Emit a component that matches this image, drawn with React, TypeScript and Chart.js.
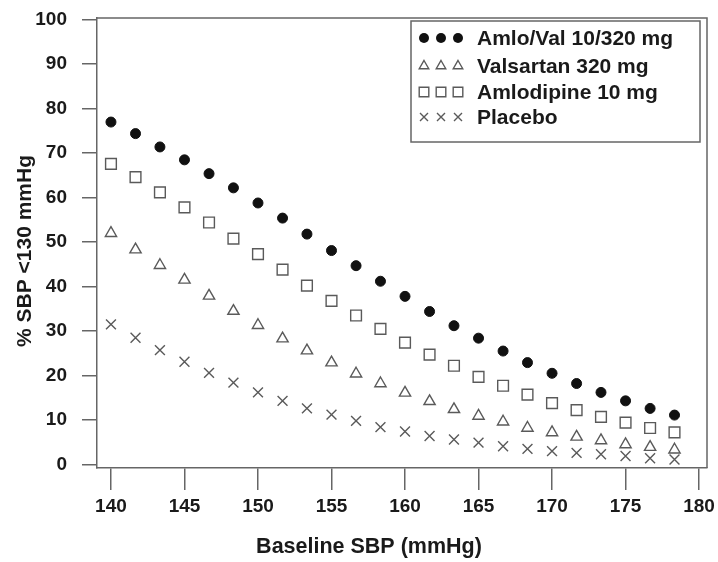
import React, { useEffect, useRef } from 'react';
import { Chart, registerables } from 'chart.js';

Chart.register(...registerables);

// ---- data ----
const xValues = [
  140, 141.67, 143.33, 145, 146.67, 148.33, 150, 151.67, 153.33, 155, 156.67, 158.33,
  160, 161.67, 163.33, 165, 166.67, 168.33, 170, 171.67, 173.33, 175, 176.67, 178.33,
];
const amloVal = [
  77.0, 74.4, 71.4, 68.5, 65.4, 62.2, 58.8, 55.4, 51.8, 48.1, 44.7, 41.2,
  37.8, 34.4, 31.2, 28.4, 25.5, 22.9, 20.5, 18.2, 16.2, 14.3, 12.6, 11.1,
];
const valsartan = [
  52.0, 48.3, 44.8, 41.5, 37.9, 34.5, 31.3, 28.3, 25.6, 22.9, 20.4, 18.2,
  16.1, 14.2, 12.4, 10.9, 9.6, 8.2, 7.2, 6.2, 5.4, 4.5, 3.9, 3.3,
];
const amlodipine = [
  67.6, 64.6, 61.2, 57.8, 54.4, 50.8, 47.3, 43.8, 40.2, 36.8, 33.5, 30.5,
  27.4, 24.7, 22.2, 19.7, 17.7, 15.7, 13.8, 12.2, 10.7, 9.4, 8.2, 7.2,
];
const placebo = [
  31.5, 28.5, 25.7, 23.1, 20.6, 18.4, 16.2, 14.3, 12.6, 11.2, 9.8, 8.4,
  7.4, 6.4, 5.6, 4.9, 4.1, 3.5, 3.0, 2.6, 2.3, 1.9, 1.4, 1.1,
];
const seriesLabels = ['Amlo/Val 10/320 mg', 'Valsartan 320 mg', 'Amlodipine 10 mg', 'Placebo'];
const xTicks = [140, 145, 150, 155, 160, 165, 170, 175, 180];
const yTicks = [0, 10, 20, 30, 40, 50, 60, 70, 80, 90, 100];
const xTitle = 'Baseline SBP (mmHg)';
const yTitle = '% SBP <130 mmHg';

// ---- styles ----
const FONT_FAMILY = '"Liberation Sans", Arial, Helvetica, sans-serif';
const TEXT = '#1a1a1a';
const AXIS = '#666666';
const GREY = '#5a5a5a';
const BLACK = '#111111';

type Style = 'circle' | 'triangle' | 'rect' | 'crossRot';
const legendStyles: Style[] = ['circle', 'triangle', 'rect', 'crossRot'];

function drawMarker(ctx: CanvasRenderingContext2D, style: Style, x: number, y: number, r: number) {
  ctx.beginPath();
  if (style === 'circle') {
    ctx.fillStyle = BLACK;
    ctx.arc(x, y, r, 0, Math.PI * 2);
    ctx.fill();
    return;
  }
  ctx.strokeStyle = GREY;
  ctx.lineWidth = 1.4;
  if (style === 'triangle') {
    for (let k = 0; k < 3; k++) {
      const a = (k * 2 * Math.PI) / 3;
      const px = x + Math.sin(a) * r;
      const py = y - Math.cos(a) * r;
      if (k === 0) ctx.moveTo(px, py);
      else ctx.lineTo(px, py);
    }
    ctx.closePath();
  } else if (style === 'rect') {
    ctx.rect(x - r, y - r, 2 * r, 2 * r);
  } else {
    ctx.moveTo(x - r, y - r);
    ctx.lineTo(x + r, y + r);
    ctx.moveTo(x + r, y - r);
    ctx.lineTo(x - r, y + r);
  }
  ctx.stroke();
}

const decorPlugin = {
  id: 'decor',
  afterDraw(chart: any) {
    const { ctx, chartArea: a } = chart;
    ctx.save();
    // frame top + right
    ctx.strokeStyle = AXIS;
    ctx.lineWidth = 1.5;
    ctx.beginPath();
    ctx.moveTo(a.left, a.top);
    ctx.lineTo(a.right, a.top);
    ctx.lineTo(a.right, a.bottom);
    ctx.stroke();

    // axis titles
    ctx.fillStyle = TEXT;
    ctx.font = `bold 21.5px ${FONT_FAMILY}`;
    ctx.textAlign = 'center';
    ctx.textBaseline = 'alphabetic';
    ctx.fillText(xTitle, 369, 553);
    ctx.font = `bold 21px ${FONT_FAMILY}`;
    ctx.save();
    ctx.translate(31, 251);
    ctx.rotate(-Math.PI / 2);
    ctx.fillText(yTitle, 0, 0);
    ctx.restore();

    // legend box
    const bx = 411, by = 21, bw = 289, bh = 121;
    ctx.fillStyle = '#ffffff';
    ctx.fillRect(bx, by, bw, bh);
    ctx.strokeStyle = AXIS;
    ctx.lineWidth = 1.5;
    ctx.strokeRect(bx, by, bw, bh);

    const rows = [38, 66, 92, 117];
    const mx = [424, 441, 458];
    const sizes = [5, 5.5, 4.8, 4];
    ctx.font = `bold 21px ${FONT_FAMILY}`;
    ctx.textAlign = 'left';
    ctx.textBaseline = 'middle';
    seriesLabels.forEach((lab, i) => {
      mx.forEach((x) => drawMarker(ctx, legendStyles[i], x, rows[i], sizes[i]));
      ctx.fillStyle = TEXT;
      ctx.fillText(lab, 477, rows[i] + 1);
    });
    ctx.restore();
  },
};

export default function App() {
  const ref = useRef<HTMLCanvasElement | null>(null);

  useEffect(() => {
    if (!ref.current) return;
    const toPts = (ys: number[]) => xValues.map((x, i) => ({ x, y: ys[i] }));
    const tickFont = { family: FONT_FAMILY, size: 19, weight: 'bold' as const };
    const chart = new Chart(ref.current, {
      type: 'scatter',
      data: {
        datasets: [
          {
            label: seriesLabels[0],
            data: toPts(amloVal),
            pointStyle: 'circle',
            pointRadius: 5,
            backgroundColor: BLACK,
            borderColor: BLACK,
            borderWidth: 1,
          },
          {
            label: seriesLabels[1],
            data: toPts(valsartan),
            pointStyle: 'triangle',
            pointRadius: 6.5,
            backgroundColor: 'rgba(0,0,0,0)',
            borderColor: GREY,
            borderWidth: 1.4,
          },
          {
            label: seriesLabels[2],
            data: toPts(amlodipine),
            pointStyle: 'rect',
            pointRadius: 7.6,
            backgroundColor: 'rgba(0,0,0,0)',
            borderColor: GREY,
            borderWidth: 1.4,
          },
          {
            label: seriesLabels[3],
            data: toPts(placebo),
            pointStyle: 'crossRot',
            pointRadius: 7,
            backgroundColor: 'rgba(0,0,0,0)',
            borderColor: GREY,
            borderWidth: 1.4,
          },
        ] as any,
      },
      options: {
        animation: false,
        responsive: false,
        devicePixelRatio: 1,
        layout: { padding: { left: 0, top: 18, right: 11, bottom: 0 } },
        plugins: {
          legend: { display: false },
          tooltip: { enabled: false },
          title: { display: false },
        },
        scales: {
          x: {
            type: 'linear',
            min: 139.05,
            max: 180.54,
            afterBuildTicks: (s: any) => {
              s.ticks = xTicks.map((v) => ({ value: v }));
            },
            afterFit: (s: any) => {
              s.height = 94;
              s.paddingLeft = 0;
              s.paddingRight = 0;
            },
            grid: {
              display: true,
              drawOnChartArea: false,
              drawTicks: true,
              tickLength: 22,
              color: AXIS,
              lineWidth: 1.5,
            },
            border: { display: true, color: AXIS, width: 1.5 },
            ticks: {
              font: tickFont,
              color: TEXT,
              padding: 5,
              maxRotation: 0,
              autoSkip: false,
              callback: (v: any) => String(v),
            },
          },
          y: {
            type: 'linear',
            min: -0.8,
            max: 100.4,
            afterBuildTicks: (s: any) => {
              s.ticks = yTicks.map((v) => ({ value: v }));
            },
            afterFit: (s: any) => {
              s.width = 97;
              s.paddingTop = 0;
              s.paddingBottom = 0;
            },
            grid: {
              display: true,
              drawOnChartArea: false,
              drawTicks: true,
              tickLength: 15,
              color: AXIS,
              lineWidth: 1.5,
            },
            border: { display: true, color: AXIS, width: 1.5 },
            ticks: {
              font: tickFont,
              color: TEXT,
              padding: 15,
              autoSkip: false,
              callback: (v: any) => String(v),
            },
          },
        },
      },
      plugins: [decorPlugin],
    });
    return () => chart.destroy();
  }, []);

  return (
    <div style={{ position: 'absolute', left: 0, top: 0, width: 718, height: 562, background: '#fff' }}>
      <canvas ref={ref} width={718} height={562} style={{ display: 'block', width: 718, height: 562 }} />
    </div>
  );
}
